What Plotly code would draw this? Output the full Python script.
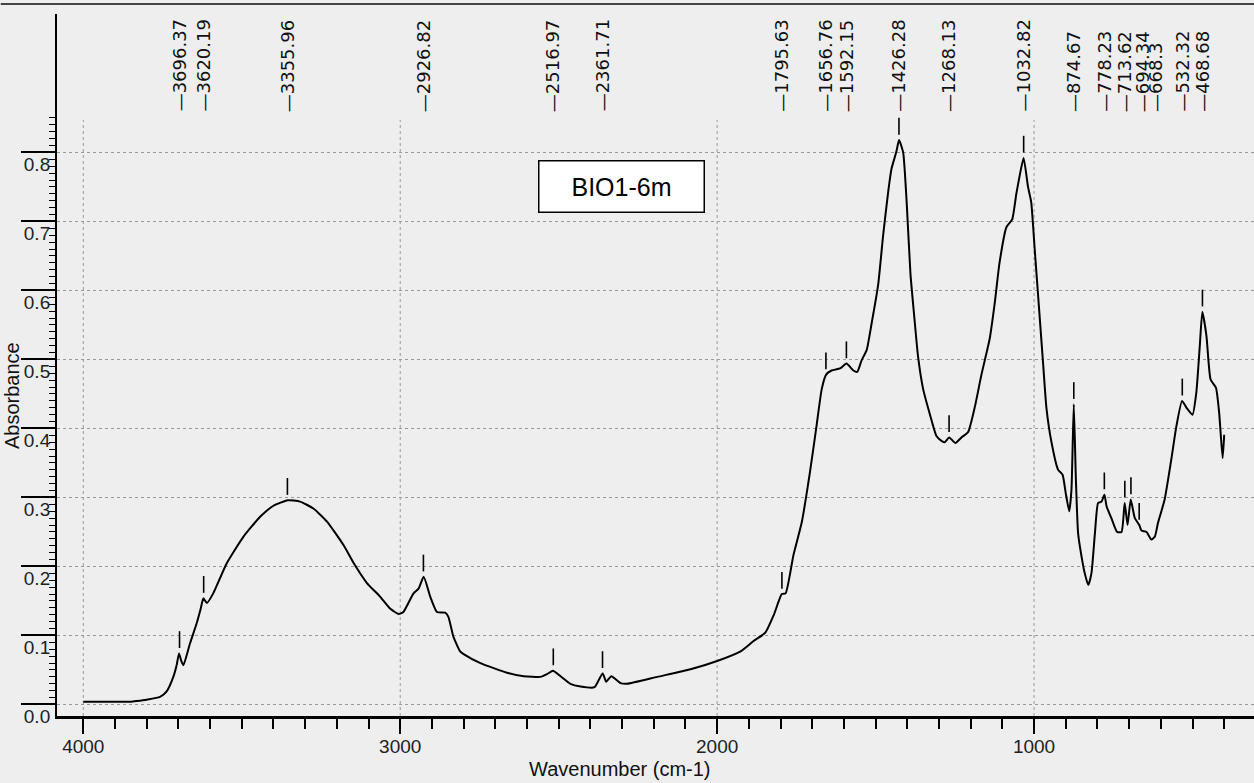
import plotly.graph_objects as go

# ---- spectrum ----
wavenumber = [4000, 3950, 3900, 3850, 3831, 3800, 3758, 3737, 3716, 3705, 3698, 3690, 3684,
              3663, 3642, 3630, 3621, 3610, 3590, 3547, 3495, 3442, 3400, 3355, 3316, 3274,
              3231, 3179, 3147, 3105, 3063, 3032, 3005, 2990, 2958, 2942, 2926, 2905, 2884,
              2858, 2848, 2832, 2811, 2800, 2747, 2663, 2610, 2558, 2537, 2518, 2494, 2463,
              2431, 2387, 2373, 2361, 2350, 2334, 2305, 2284, 2189, 2084, 2000, 1926, 1885,
              1848, 1821, 1796, 1784, 1759, 1733, 1707, 1686, 1670, 1656, 1639, 1612, 1592,
              1570, 1558, 1544, 1528, 1513, 1492, 1476, 1460, 1450, 1434, 1426, 1413, 1402,
              1390, 1379, 1366, 1350, 1329, 1308, 1292, 1282, 1268, 1248, 1229, 1208, 1187,
              1166, 1140, 1124, 1109, 1087, 1069, 1056, 1046, 1033, 1019, 1009, 998, 982,
              971, 961, 945, 924, 910, 900, 889, 882, 874.67, 868, 861, 850, 840, 829, 819,
              808, 798, 787, 778, 771, 756, 738, 724, 714, 705, 695, 682, 668, 661, 645, 630,
              619, 609, 588, 567, 551, 533, 519, 500, 488, 477, 469, 456, 443, 426, 416, 405,
              400]
absorbance = [0.004, 0.004, 0.004, 0.004, 0.005, 0.007, 0.011, 0.019, 0.040, 0.058, 0.074, 0.062, 0.057,
              0.089, 0.118, 0.138, 0.154, 0.147, 0.161, 0.205, 0.243, 0.272, 0.288, 0.296, 0.294, 0.284,
              0.265, 0.231, 0.205, 0.176, 0.156, 0.139, 0.131, 0.134, 0.161, 0.168, 0.185, 0.156, 0.134,
              0.133, 0.127, 0.098, 0.077, 0.073, 0.060, 0.046, 0.041, 0.040, 0.044, 0.049, 0.041, 0.030,
              0.026, 0.025, 0.036, 0.045, 0.033, 0.041, 0.031, 0.030, 0.040, 0.051, 0.063, 0.077, 0.092,
              0.104, 0.130, 0.160, 0.161, 0.217, 0.264, 0.337, 0.405, 0.457, 0.478, 0.484, 0.487, 0.494,
              0.484, 0.482, 0.499, 0.514, 0.551, 0.608, 0.681, 0.744, 0.776, 0.802, 0.818, 0.800, 0.728,
              0.624, 0.567, 0.504, 0.457, 0.421, 0.389, 0.382, 0.380, 0.387, 0.379, 0.387, 0.395, 0.431,
              0.478, 0.530, 0.582, 0.640, 0.692, 0.703, 0.740, 0.765, 0.792, 0.750, 0.728, 0.660, 0.560,
              0.491, 0.430, 0.380, 0.340, 0.333, 0.306, 0.280, 0.311, 0.435, 0.326, 0.248, 0.214, 0.190,
              0.173, 0.190, 0.248, 0.292, 0.294, 0.304, 0.287, 0.270, 0.250, 0.250, 0.292, 0.260, 0.297,
              0.270, 0.260, 0.252, 0.250, 0.239, 0.243, 0.263, 0.297, 0.355, 0.403, 0.440, 0.430, 0.420,
              0.452, 0.520, 0.569, 0.534, 0.471, 0.459, 0.423, 0.357, 0.391]

# ---- labelled peaks ----
peak_wn = [3696.37, 3620.19, 3355.96, 2926.82, 2516.97, 2361.71, 1795.63, 1656.76, 1592.15,
           1426.28, 1268.13, 1032.82, 874.67, 778.23, 713.62, 694.34, 668.3, 532.32, 468.68]
peak_abs = [0.074, 0.154, 0.296, 0.185, 0.049, 0.045, 0.160, 0.478, 0.494,
            0.818, 0.387, 0.792, 0.435, 0.304, 0.292, 0.297, 0.260, 0.440, 0.569]
peak_text = ["3696.37", "3620.19", "3355.96", "2926.82", "2516.97", "2361.71", "1795.63",
             "1656.76", "1592.15", "1426.28", "1268.13", "1032.82", "874.67", "778.23",
             "713.62", "694.34", "668.3", "532.32", "468.68"]

x_ticks = [4000, 3000, 2000, 1000]
y_ticks = [0.0, 0.1, 0.2, 0.3, 0.4, 0.5, 0.6, 0.7, 0.8]
y_ticktext = ["0.0", "0.1", "0.2", "0.3", "0.4", "0.5", "0.6", "0.7", "0.8"]
sample_name = "BIO1-6m"

X_RANGE = [4083, 306]
Y_RANGE = [-0.0167, 1.0007]
GRID = "#9a9a9a"
BG = "#eeeeee"
SANS = "Liberation Sans, Arial, Helvetica"
PEAKFONT = "DejaVu Sans, Liberation Sans, Arial"

fig = go.Figure()
fig.add_trace(go.Scatter(x=wavenumber, y=absorbance, mode="lines",
                         line=dict(color="black", width=2, shape="spline", smoothing=0.5),
                         hoverinfo="x+y"))
fig.add_trace(go.Scatter(x=peak_wn, y=[a + 0.02 for a in peak_abs], mode="markers",
                         marker=dict(symbol="line-ns", size=12,
                                     line=dict(width=1.6, color="black")),
                         hoverinfo="skip"))

# peak labels (vertical text at top)
label_xshift = {"694.34": 11, "668.3": 17}
for wn, txt in zip(peak_wn, peak_text):
    fig.add_annotation(x=wn, y=0.856, xref="x", yref="y", text="\u2014" + txt,
                       textangle=-90, showarrow=False, xanchor="center", yanchor="bottom",
                       xshift=label_xshift.get(txt, 0),
                       font=dict(family=PEAKFONT, size=18, color="#111"))

# vertical dotted grid lines (only below the label band)
for v in x_ticks:
    fig.add_shape(type="line", xref="x", yref="y", x0=v, x1=v, y0=Y_RANGE[0], y1=0.847,
                  line=dict(color=GRID, width=1, dash="dot"), layer="below")

# sample name box
fig.add_annotation(x=2303, y=0.751, xref="x", yref="y", text=sample_name, showarrow=False,
                   bgcolor="white", bordercolor="black", borderwidth=1.5, borderpad=1,
                   width=162, height=48, font=dict(family=SANS, size=25, color="black"))

# axis titles
fig.add_annotation(x=(620 - 57) / 1197, y=(716 - 769) / 702, xref="paper", yref="paper",
                   xanchor="center", yanchor="middle",
                   text="Wavenumber (cm-1)", showarrow=False,
                   font=dict(family=SANS, size=20, color="#111"))
fig.add_annotation(x=(12 - 57) / 1197, y=(716 - 396) / 702, xref="paper", yref="paper",
                   xanchor="center", yanchor="middle",
                   text="Absorbance", textangle=-90, showarrow=False,
                   font=dict(family=SANS, size=20, color="#111"))

# top page border from the scan
fig.add_shape(type="line", xref="paper", yref="paper", x0=-0.047, x1=1.0,
              y0=(716 - 4) / 702, y1=(716 - 4) / 702, line=dict(color="#444", width=2))

fig.update_layout(
    width=1254, height=783,
    margin=dict(l=57, r=0, t=14, b=67, autoexpand=False),
    paper_bgcolor=BG, plot_bgcolor=BG,
    showlegend=False,
    xaxis=dict(range=X_RANGE, tickmode="array", tickvals=x_ticks, automargin=False,
               ticks="outside", ticklen=15, tickwidth=1.6, tickcolor="black",
               showline=True, linecolor="black", linewidth=2.5,
               showgrid=False, zeroline=False, ticklabelstandoff=-4,
               tickfont=dict(family=SANS, size=19, color="#222"),
               minor=dict(tickmode="array", tickvals=list(range(3900, 399, -100)),
                          ticks="outside", ticklen=10, tickwidth=1.6, tickcolor="black",
                          showgrid=False)),
    yaxis=dict(range=Y_RANGE, tickmode="array", tickvals=y_ticks, ticktext=y_ticktext,
               automargin=False,
               ticks="outside", ticklen=34, tickwidth=1.6, tickcolor="black",
               showline=True, linecolor="black", linewidth=2,
               showgrid=True, gridcolor=GRID, griddash="dot", gridwidth=1,
               zeroline=False,
               ticklabelstandoff=-33, ticklabelshift=12,
               tickfont=dict(family=SANS, size=19, color="#222"),
               minor=dict(tickmode="array", tickvals=[i / 100 for i in range(0, 86)],
                          ticks="outside", ticklen=6, tickwidth=1.2, tickcolor="black",
                          showgrid=False)),
)

fig.write_html("out.html", config={"displayModeBar": False},
               post_script="document.body.style.margin='0';"
                           "document.body.style.background='#eeeeee';")
